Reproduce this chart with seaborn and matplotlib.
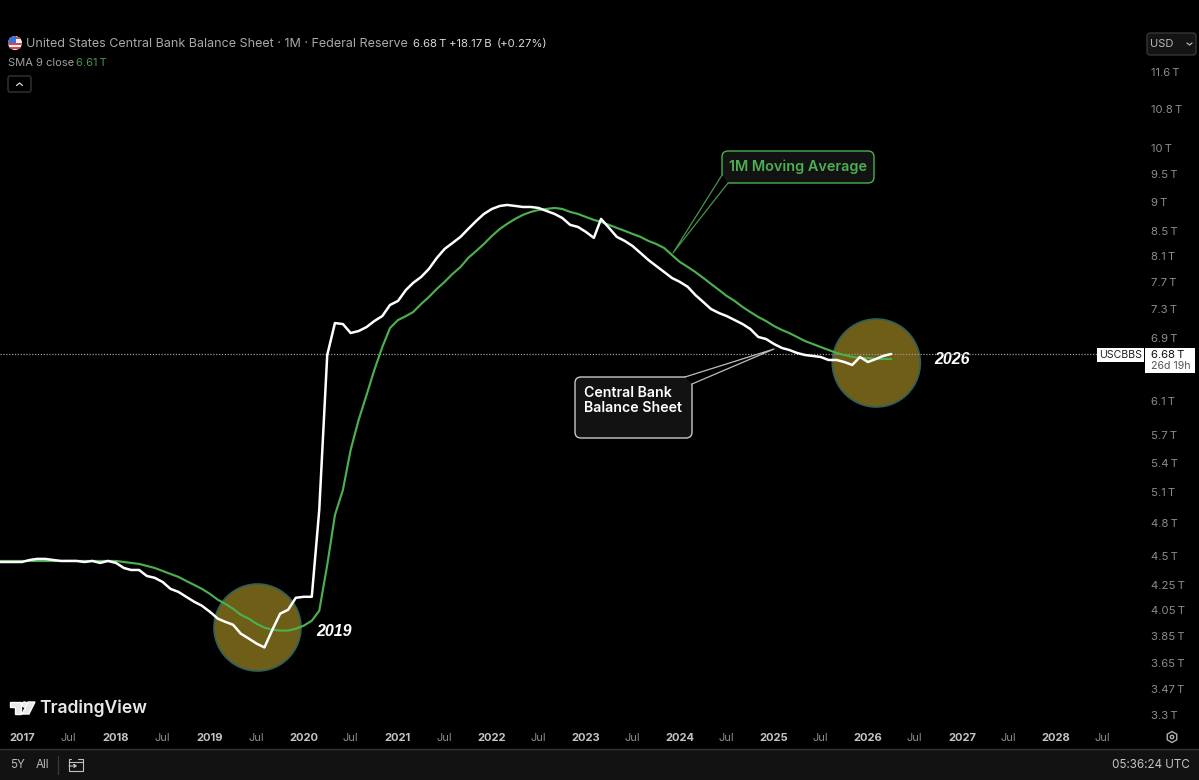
import numpy as np
import pandas as pd
import matplotlib
matplotlib.use('Agg')
import matplotlib.pyplot as plt
import matplotlib.dates as mdates
from matplotlib.patches import Circle, FancyBboxPatch, Polygon, Rectangle, RegularPolygon
import seaborn as sns

# monthly values in trillions, Oct 2016 to Apr 2026
balance_sheet = [
    4.449, 4.449, 4.449, 4.449, 4.467, 4.476, 4.476, 4.467, 4.458, 4.458, 4.458, 4.449,
    4.458, 4.441, 4.458, 4.441, 4.397, 4.380, 4.380, 4.329, 4.313, 4.279, 4.221, 4.196,
    4.156, 4.116, 4.084, 4.036, 3.982, 3.958, 3.935, 3.867, 3.830, 3.793, 3.764, 3.897,
    4.021, 4.052, 4.148, 4.156, 4.156, 4.926, 6.671, 7.101, 7.087, 6.964, 6.991, 7.046,
    7.129, 7.199, 7.357, 7.415, 7.577, 7.682, 7.772, 7.894, 8.067, 8.209, 8.306, 8.406,
    8.538, 8.672, 8.792, 8.878, 8.930, 8.947, 8.930, 8.912, 8.912, 8.895, 8.843, 8.792,
    8.723, 8.605, 8.571, 8.488, 8.389, 8.706, 8.555, 8.406, 8.339, 8.258, 8.146, 8.034,
    7.941, 7.848, 7.757, 7.697, 7.622, 7.503, 7.400, 7.299, 7.242, 7.199, 7.143, 7.087,
    7.019, 6.910, 6.883, 6.816, 6.763, 6.737, 6.697, 6.671, 6.658, 6.645, 6.606, 6.606,
    6.580, 6.542, 6.645, 6.580, 6.619, 6.658, 6.684,
]
sma_9 = [
    4.458, 4.458, 4.458, 4.458, 4.458, 4.458, 4.458, 4.458, 4.458, 4.458, 4.458, 4.458,
    4.458, 4.458, 4.458, 4.458, 4.449, 4.441, 4.432, 4.415, 4.397, 4.372, 4.346, 4.321,
    4.287, 4.254, 4.221, 4.180, 4.132, 4.100, 4.060, 4.013, 3.982, 3.943, 3.913, 3.897,
    3.890, 3.890, 3.905, 3.928, 3.966, 4.044, 4.423, 4.878, 5.123, 5.540, 5.874, 6.170,
    6.478, 6.776, 7.032, 7.143, 7.199, 7.256, 7.371, 7.473, 7.592, 7.697, 7.818, 7.925,
    8.067, 8.177, 8.290, 8.422, 8.538, 8.622, 8.706, 8.774, 8.826, 8.860, 8.878, 8.895,
    8.878, 8.826, 8.792, 8.740, 8.689, 8.655, 8.605, 8.555, 8.505, 8.455, 8.406, 8.339,
    8.290, 8.225, 8.114, 8.003, 7.925, 7.848, 7.757, 7.667, 7.577, 7.488, 7.415, 7.328,
    7.256, 7.186, 7.129, 7.060, 7.005, 6.964, 6.910, 6.856, 6.816, 6.776, 6.737, 6.697,
    6.671, 6.645, 6.632, 6.632, 6.619, 6.619, 6.619,
]
price_ticks = [11.6, 10.8, 10, 9.5, 9, 8.5, 8.1, 7.7, 7.3, 6.9, 6.1, 5.7, 5.4, 5.1, 4.8,
               4.5, 4.25, 4.05, 3.85, 3.65, 3.47, 3.3]
last_price = 6.68
years = list(range(2017, 2029))

months = pd.date_range('2016-10-01', periods=len(balance_sheet), freq='MS')
df = pd.DataFrame({'month': months, 'balance': balance_sheet, 'sma': sma_9})

BLACK = '#000000'
GREEN = '#4caf50'
GREY = '#8c8c8c'
LIGHT = '#c4c4c4'
BAR = '#121212'
W, H = 1199, 780

sns.set_theme(style='dark', rc={'axes.facecolor': 'none', 'figure.facecolor': BLACK,
                                'axes.grid': False})
plt.rcParams['font.family'] = ['Inter', 'DejaVu Sans']

fig = plt.figure(figsize=(W / 100, H / 100), dpi=100)

# background layer in pixel coordinates, everything that isn't data goes here
bg = fig.add_axes([0, 0, 1, 1], zorder=0)
bg.set_xlim(0, W)
bg.set_ylim(H, 0)
bg.axis('off')

# main pane
ax_left, ax_right, ax_top, ax_bottom = 0, 1145, 30, 728
ax = fig.add_axes([ax_left / W, 1 - ax_bottom / H, (ax_right - ax_left) / W, (ax_bottom - ax_top) / H],
                  zorder=1)
ax.patch.set_alpha(0)

sns.lineplot(data=df, x='month', y='sma', color=GREEN, linewidth=1.55, ax=ax, zorder=3)
sns.lineplot(data=df, x='month', y='balance', color='white', linewidth=1.8, ax=ax, zorder=4)

ax.set_yscale('log')
ax.set_ylim(3.215, 12.6)
jan17 = mdates.date2num(pd.Timestamp('2017-01-01'))
ax.set_xlim(jan17 - 22 / 94 * 365.25, jan17 + 1123 / 94 * 365.25)
ax.axhline(last_price, xmax=1097 / 1145, color='#9a9a9a', linewidth=0.9, linestyle=(0, (1, 1.3)), zorder=2)

ax.yaxis.tick_right()
ax.set_yticks(price_ticks)
ax.set_yticklabels([f'{p:g}\u2009T' for p in price_ticks], color=GREY, fontsize=8.2, ha='left')
ax.yaxis.set_minor_locator(matplotlib.ticker.NullLocator())
ax.tick_params(axis='y', length=0, pad=4.5)

tick_dates, tick_text = [], []
for y in years:
    tick_dates += [pd.Timestamp(f'{y}-01-01'), pd.Timestamp(f'{y}-07-01')]
    tick_text += [str(y), 'Jul']
ax.set_xticks(mdates.date2num(tick_dates))
ax.set_xticklabels(tick_text, fontsize=8)
for lab, txt in zip(ax.get_xticklabels(), tick_text):
    if txt == 'Jul':
        lab.set_color(GREY)
    else:
        lab.set_color(LIGHT)
        lab.set_fontweight('bold')
ax.tick_params(axis='x', length=0, pad=3.5)
ax.set_xlabel('')
ax.set_ylabel('')
for s in ax.spines.values():
    s.set_visible(False)

# highlight circles, under the lines
for cx, cy, r in [(257.5, 627.5, 43.5), (876.3, 363, 44)]:
    bg.add_patch(Circle((cx, cy), r, facecolor='#6e5e18', edgecolor='#2f5f5c', linewidth=1.2))
bg.text(316, 632, '2019', color='white', fontsize=11.5, fontweight='bold', style='italic',
        family='Liberation Sans', va='center')
bg.text(934, 360, '2026', color='white', fontsize=11.5, fontweight='bold', style='italic',
        family='Liberation Sans', va='center')

# callouts
bg.add_patch(FancyBboxPatch((726, 155), 144, 24, boxstyle='round,pad=4,rounding_size=6',
                            facecolor=BAR, edgecolor=GREEN, linewidth=1))
bg.add_patch(Polygon([(722, 175), (673, 253), (728, 183)], closed=True, facecolor=BLACK, edgecolor='none'))
bg.plot([722, 673, 728], [175, 253, 183], color='#46934a', linewidth=0.9)
bg.text(798, 167, '1M Moving Average', color=GREEN, fontsize=10.4, fontweight='semibold',
        ha='center', va='center')

bg.add_patch(FancyBboxPatch((579, 381), 109, 53, boxstyle='round,pad=4,rounding_size=6',
                            facecolor=BAR, edgecolor='#c8c8c8', linewidth=1))
bg.add_patch(Polygon([(685, 377), (774, 349), (692, 384)], closed=True, facecolor=BLACK, edgecolor='none'))
bg.plot([685, 774, 692], [377, 349, 384], color='#bdbdbd', linewidth=0.9)
bg.text(584, 393, 'Central Bank', color='white', fontsize=10.2, fontweight='semibold', va='center')
bg.text(584, 408, 'Balance Sheet', color='white', fontsize=10.2, fontweight='semibold', va='center')

# header
flag = Circle((15, 43), 7, transform=bg.transData)
bg.add_patch(Circle((15, 43), 7, facecolor='#f2f2f2', edgecolor='none'))
for sy in [43, 47, 36.5]:
    stripe = Rectangle((8, sy), 14, 2, facecolor='#d9444a', edgecolor='none')
    bg.add_patch(stripe)
    stripe.set_clip_path(flag)
canton = Rectangle((8, 36), 8, 7, facecolor='#3f6fd8', edgecolor='none')
bg.add_patch(canton)
canton.set_clip_path(flag)

bg.text(26, 44, 'United States Central Bank Balance Sheet \u00b7 1M \u00b7 Federal Reserve',
        color='#a8a8a8', fontsize=9, va='center')
bg.text(413, 44, '6.68\u2009T', color='#d8d8d8', fontsize=8.2, va='center')
bg.text(449, 44, '+18.17\u2009B', color='#d8d8d8', fontsize=8.2, va='center')
bg.text(497, 44, '(+0.27%)', color='#d8d8d8', fontsize=8.2, va='center')
bg.text(8, 63, 'SMA 9 close', color='#a0a0a0', fontsize=8, va='center')
bg.text(76, 63, '6.61\u2009T', color='#4b9a50', fontsize=8, va='center')
bg.add_patch(FancyBboxPatch((9, 77), 21, 14, boxstyle='round,pad=1,rounding_size=2',
                            facecolor=BLACK, edgecolor='#3a3a3a', linewidth=0.9))
bg.plot([16.5, 19.5, 22.5], [85.5, 83, 85.5], color='#d8d8d8', linewidth=0.9)

# currency button
bg.add_patch(FancyBboxPatch((1149, 35), 45, 18, boxstyle='round,pad=2,rounding_size=3',
                            facecolor='#141414', edgecolor='#3a3a3a', linewidth=0.9))
bg.text(1150, 44, 'USD', color='#b8b8b8', fontsize=8, va='center')
bg.plot([1187, 1189.5, 1192], [43, 45, 43], color='#b8b8b8', linewidth=0.9)

# last price tags
bg.add_patch(Rectangle((1097, 348), 47, 14, facecolor='white', edgecolor='none'))
bg.text(1120.5, 355, 'USCBBS', color='#222222', fontsize=7.6, ha='center', va='center')
bg.add_patch(Rectangle((1145, 348), 50, 25, facecolor='white', edgecolor='none'))
bg.text(1151, 355, '6.68\u2009T', color='#111111', fontsize=8.2, va='center')
bg.text(1151, 366, '26d 19h', color='#555555', fontsize=7.6, va='center')

# TradingView mark
bg.add_patch(Polygon([(10, 702), (21, 702), (21, 714), (15, 714), (15, 707), (10, 707)], facecolor='#e8e8e8'))
bg.add_patch(Circle((24.5, 704.5), 2.5, facecolor='#e8e8e8'))
bg.add_patch(Polygon([(28, 702), (35, 702), (29, 714), (22, 714)], facecolor='#e8e8e8'))
bg.text(39, 708, 'TradingView', color='#e8e8e8', fontsize=12.6, fontweight='semibold', va='center')

# settings gear
bg.add_patch(RegularPolygon((1172, 737), 6, radius=5.5, facecolor='none', edgecolor='#b0b0b0', linewidth=1))
bg.add_patch(Circle((1172, 737), 1.7, facecolor='none', edgecolor='#b0b0b0', linewidth=1))

# bottom bar
bg.add_patch(Rectangle((0, 749), W, 31, facecolor=BAR, edgecolor='none'))
bg.plot([0, W], [748.5, 748.5], color='#333333', linewidth=1)
bg.text(18, 765, '5Y', color='#b8b8b8', fontsize=8.4, ha='center', va='center')
bg.text(42, 765, 'All', color='#b8b8b8', fontsize=8.4, ha='center', va='center')
bg.plot([58, 58], [756, 774], color='#3a3a3a', linewidth=0.9)
bg.plot([71, 69, 69, 83, 83, 78], [758.5, 758.5, 771, 771, 758.5, 758.5], color='#c0c0c0', linewidth=0.8)
bg.plot([69, 83], [762, 762], color='#c0c0c0', linewidth=0.8)
bg.plot([69, 76, 74, 76, 74], [766, 766, 764.5, 766, 767.5], color='#c0c0c0', linewidth=0.8)
bg.text(1190, 765, '05:36:24 UTC', color='#c4c4c4', fontsize=8.4, ha='right', va='center')

fig.savefig('out.png', dpi=100, facecolor=BLACK)
